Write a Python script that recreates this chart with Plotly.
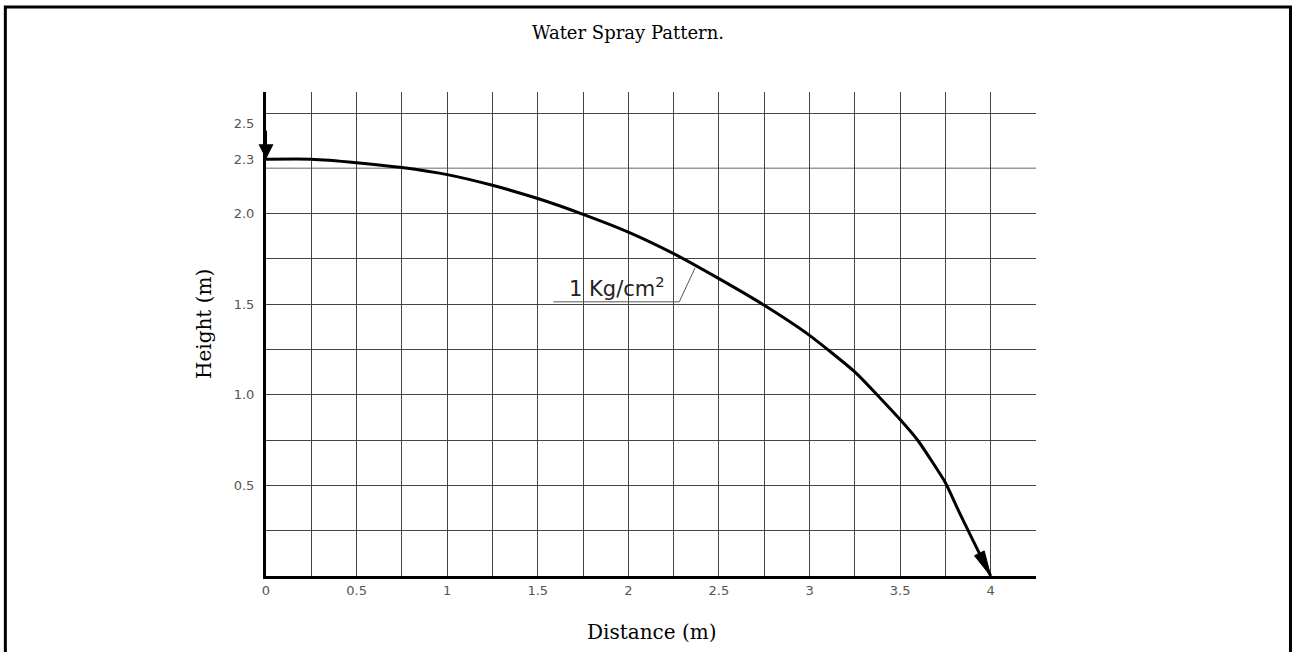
import math
import plotly.graph_objects as go

# ---- data ----
distance_m = [0, 0.25, 0.5, 0.75, 1.0, 1.25, 1.5, 1.75, 2.0, 2.25, 2.5, 2.75,
              3.0, 3.25, 3.5, 3.6, 3.75, 3.83, 3.93, 4.0]
height_m = [2.3, 2.3, 2.281, 2.254, 2.215, 2.156, 2.083, 1.996, 1.898, 1.779,
            1.641, 1.494, 1.328, 1.126, 0.863, 0.745, 0.515, 0.344, 0.14, 0.0]

x_tick_vals = [0, 0.5, 1, 1.5, 2, 2.5, 3, 3.5, 4]
x_tick_text = ["0", "0.5", "1", "1.5", "2", "2.5", "3", "3.5", "4"]
y_tick_vals = [0.5, 1.0, 1.5, 2.0, 2.3, 2.5]
y_tick_text = ["0.5", "1.0", "1.5", "2.0", "2.3", "2.5"]

x_grid = [0.25, 0.5, 0.75, 1.0, 1.25, 1.5, 1.75, 2.0, 2.25, 2.5, 2.75, 3.0,
          3.25, 3.5, 3.75, 4.0]
y_grid = [0.25, 0.5, 0.75, 1.0, 1.25, 1.5, 1.75, 2.0, 2.55]
y_grid_light = [2.25]

series_label = "1 Kg/cm<sup>2</sup>"
label_pos = (1.94, 1.595)
leader_x = [1.586, 2.281, 2.368]
leader_y = [1.513, 1.513, 1.70]

X_RANGE = [0, 4.25]
Y_RANGE = [0, 2.671]

SERIF = "DejaVu Serif"
SANS = "DejaVu Sans"


def arrow_triangle(tip, prev, length, half_w):
    dx, dy = tip[0] - prev[0], tip[1] - prev[1]
    n = math.hypot(dx, dy)
    ux, uy = dx / n, dy / n
    bx, by = tip[0] - ux * length, tip[1] - uy * length
    px, py = -uy, ux
    xs = [tip[0], bx + px * half_w, bx - px * half_w, tip[0]]
    ys = [tip[1], by + py * half_w, by - py * half_w, tip[1]]
    return xs, ys


fig = go.Figure()

# curve
fig.add_trace(go.Scatter(x=distance_m, y=height_m, mode="lines",
                         line=dict(color="black", width=3, shape="spline",
                                   smoothing=0.5),
                         hoverinfo="skip", showlegend=False,
                         cliponaxis=False))

# end arrow (along curve direction)
ex, ey = arrow_triangle((distance_m[-1], height_m[-1]),
                        (distance_m[-2], height_m[-2]), 0.14, 0.03)
fig.add_trace(go.Scatter(x=ex, y=ey, mode="lines", fill="toself",
                         fillcolor="black", line=dict(color="black", width=1),
                         hoverinfo="skip", showlegend=False, cliponaxis=False))

# leader line for label
fig.add_trace(go.Scatter(x=leader_x, y=leader_y, mode="lines",
                         line=dict(color="#555555", width=1),
                         hoverinfo="skip", showlegend=False))

shapes = []
for v in y_grid_light:
    shapes.append(dict(type="line", xref="paper", yref="y", x0=0, x1=1,
                       y0=v, y1=v, line=dict(color="#9a9a9a", width=1.5),
                       layer="below"))
# outer frame
shapes.append(dict(type="rect", xref="paper", yref="paper",
                   x0=-0.3385, x1=1.3305, y0=-0.2, y1=1.1755,
                   line=dict(color="black", width=3)))

annotations = [
    # start arrow pointing down onto the start of the curve
    dict(text="", x=distance_m[0], y=height_m[0], xref="x", yref="y",
         showarrow=True, ax=0, ay=-30, arrowhead=2, arrowwidth=2,
         arrowsize=1.5, arrowcolor="black", standoff=0),
    dict(text=series_label, x=label_pos[0], y=label_pos[1], xref="x", yref="y",
         showarrow=False, xanchor="center", yanchor="middle",
         font=dict(family=SANS, size=21, color="#222222")),
    dict(text="Height (m)", x=-0.0805, y=0.5207, xref="paper", yref="paper",
         showarrow=False, textangle=-90, xanchor="center", yanchor="middle",
         font=dict(family=SERIF, size=20, color="black")),
    dict(text="Distance (m)", x=0.501, y=-0.1157, xref="paper", yref="paper",
         showarrow=False, xanchor="center", yanchor="middle",
         font=dict(family=SERIF, size=20, color="black")),
]

fig.update_layout(
    width=1296, height=652,
    margin=dict(l=266, r=260, t=92, b=76),
    paper_bgcolor="white", plot_bgcolor="white",
    showlegend=False,
    title=dict(text="Water Spray Pattern.", xref="container", yref="container",
               x=628 / 1296, y=1 - 33 / 652, xanchor="center", yanchor="middle",
               font=dict(family=SERIF, size=18, color="black")),
    shapes=shapes,
    annotations=annotations,
    xaxis=dict(range=X_RANGE, tickvals=x_tick_vals, ticktext=x_tick_text,
               showgrid=False, zeroline=False, showline=True,
               linecolor="black", linewidth=3, ticks="",
               ticklabelstandoff=0,
               tickfont=dict(family=SANS, size=13, color="#555555"),
               minor=dict(tickvals=x_grid, showgrid=True,
                          gridcolor="#444444", gridwidth=1, ticks="")),
    yaxis=dict(range=Y_RANGE, tickvals=y_tick_vals, ticktext=y_tick_text,
               showgrid=False, zeroline=False, showline=True,
               linecolor="black", linewidth=3, ticks="",
               ticklabelstandoff=6,
               tickfont=dict(family=SANS, size=13, color="#555555"),
               minor=dict(tickvals=y_grid, showgrid=True,
                          gridcolor="#444444", gridwidth=1, ticks="")),
)

fig.write_html("out.html",
               config={"displayModeBar": False},
               post_script="document.body.style.margin='0';"
                           "document.body.style.overflow='hidden';")
